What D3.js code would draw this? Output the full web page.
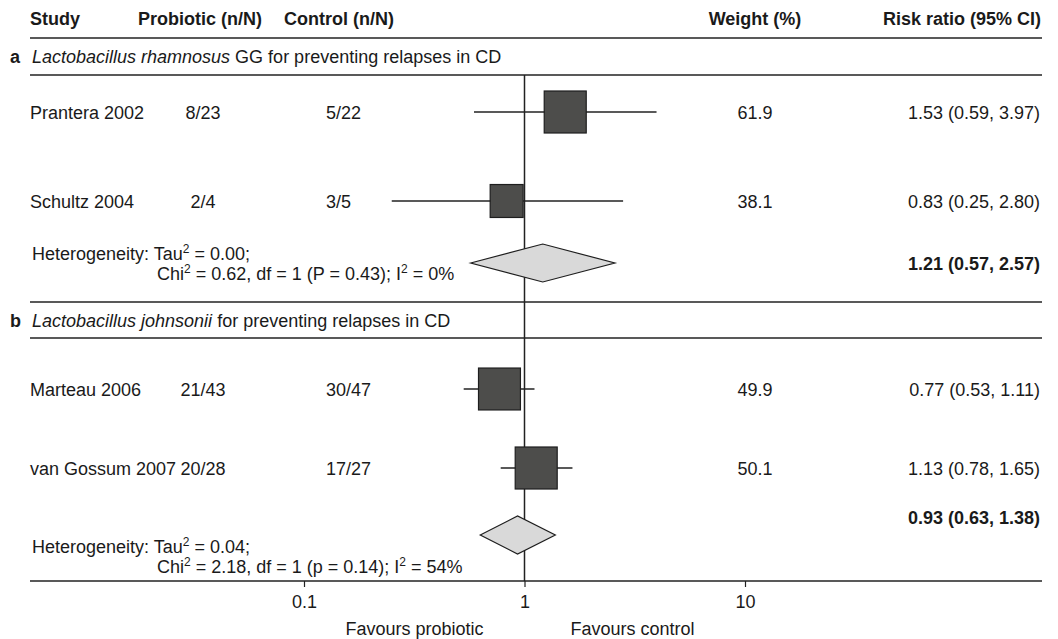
<!DOCTYPE html>
<html>
<head>
<meta charset="utf-8">
<script src="https://cdn.jsdelivr.net/npm/d3@7"></script>
<style>
  body { margin: 0; background: #fff; }
  svg text { font-family: "Liberation Sans", Arial, Helvetica, sans-serif; fill: #1a1a1a; }
</style>
</head>
<body>
<div id="chart"></div>
<script>
// study level data
const studies   = ["Prantera 2002", "Schultz 2004", "Marteau 2006", "van Gossum 2007"];
const subgroup  = ["a", "a", "b", "b"];
const probiotic = ["8/23", "2/4", "21/43", "20/28"];
const control   = ["5/22", "3/5", "30/47", "17/27"];
const weights   = [61.9, 38.1, 49.9, 50.1];
const rr        = [1.53, 0.83, 0.77, 1.13];
const rrLow     = [0.59, 0.25, 0.53, 0.78];
const rrHigh    = [3.97, 2.80, 1.11, 1.65];

// subgroup level data
const groups      = ["a", "b"];
const groupItalic = ["Lactobacillus rhamnosus", "Lactobacillus johnsonii"];
const groupRest   = [" GG for preventing relapses in CD", " for preventing relapses in CD"];
const pooledRR    = [1.21, 0.93];
const pooledLow   = [0.57, 0.63];
const pooledHigh  = [2.57, 1.38];
const tau2        = ["0.00", "0.04"];
const chi2        = ["0.62", "2.18"];
const dfs         = [1, 1];
const pvals       = ["P = 0.43", "p = 0.14"];
const i2          = ["0%", "54%"];

const tickValues = [0.1, 1, 10];

const width = 1058, height = 639;
const fmt2 = d3.format(".2f");

const svg = d3.select("#chart").append("svg")
    .attr("width", width)
    .attr("height", height);

const x = d3.scaleLog().domain([0.1, 10]).range([304, 745]);

// vertical positions of the rows
const studyY  = [112, 201, 389, 468];
const labelY  = [56, 320];
const pooledY = [263, 535];
const pooledTextY = [263, 517];
const hetY    = [253, 546];
const rules   = [38, 75, 302, 338];
const axisY   = 581;
const left = 30, right = 1042;
const fs = 18;

function txt(xp, yc, s, anchor, bold) {
    return svg.append("text")
        .attr("x", xp)
        .attr("y", yc + 6.5)
        .attr("text-anchor", anchor || "start")
        .style("font-size", fs + "px")
        .style("font-weight", bold ? "bold" : "normal")
        .text(s);
}

// header
txt(left, 18, "Study", "start", true);
txt(138, 18, "Probiotic (n/N)", "start", true);
txt(284, 18, "Control (n/N)", "start", true);
txt(755, 18, "Weight (%)", "middle", true);
txt(1041, 18, "Risk ratio (95% CI)", "end", true);

// horizontal rules
svg.selectAll(".rule")
    .data(rules)
    .enter()
    .append("line")
    .attr("x1", left).attr("x2", right)
    .attr("y1", d => d).attr("y2", d => d)
    .attr("stroke", "#222")
    .attr("stroke-width", 1.5);

// line of no effect
svg.append("line")
    .attr("x1", x(1)).attr("x2", x(1))
    .attr("y1", rules[1]).attr("y2", axisY)
    .attr("stroke", "#222")
    .attr("stroke-width", 1.5);

// subgroup titles
groups.forEach((g, i) => {
    txt(10, labelY[i], g, "start", true);
    const t = svg.append("text")
        .attr("x", 32)
        .attr("y", labelY[i] + 6.5)
        .style("font-size", fs + "px");
    t.append("tspan").style("font-style", "italic").text(groupItalic[i]);
    t.append("tspan").text(groupRest[i]);
});

// study rows
const maxW = {};
groups.forEach(g => {
    maxW[g] = d3.max(weights.filter((w, i) => subgroup[i] === g));
});
const boxScale = 42;

studies.forEach((s, i) => {
    const y = studyY[i];
    txt(left, y, s);
    txt(203, y, probiotic[i], "middle");
    txt(326, y, control[i]);
    txt(755, y, weights[i].toFixed(1), "middle");
    txt(1040, y, `${fmt2(rr[i])} (${fmt2(rrLow[i])}, ${fmt2(rrHigh[i])})`, "end");

    svg.append("line")
        .attr("x1", x(rrLow[i])).attr("x2", x(rrHigh[i]))
        .attr("y1", y).attr("y2", y)
        .attr("stroke", "#222")
        .attr("stroke-width", 1.5);

    const side = boxScale * Math.sqrt(weights[i] / maxW[subgroup[i]]);
    svg.append("rect")
        .attr("x", x(rr[i]) - side / 2)
        .attr("y", y - side / 2)
        .attr("width", side)
        .attr("height", side)
        .attr("fill", "#4d4d4b")
        .attr("stroke", "#1e1e1e")
        .attr("stroke-width", 1.2);
});

// pooled diamonds + heterogeneity
groups.forEach((g, i) => {
    const cy = pooledY[i], h = 19;
    const pts = [
        [x(pooledLow[i]), cy],
        [x(pooledRR[i]), cy - h],
        [x(pooledHigh[i]), cy],
        [x(pooledRR[i]), cy + h]
    ];
    svg.append("path")
        .attr("d", d3.line()(pts) + "Z")
        .attr("fill", "#d9d9d9")
        .attr("stroke", "#1e1e1e")
        .attr("stroke-width", 1.2);

    txt(1040, pooledTextY[i], `${fmt2(pooledRR[i])} (${fmt2(pooledLow[i])}, ${fmt2(pooledHigh[i])})`, "end", true);

    const l1 = svg.append("text")
        .attr("x", 32).attr("y", hetY[i] + 6.5)
        .style("font-size", fs + "px");
    l1.append("tspan").text("Heterogeneity: Tau");
    l1.append("tspan").attr("dy", -7).style("font-size", "12px").text("2");
    l1.append("tspan").attr("dy", 7).text(` = ${tau2[i]};`);

    const l2 = svg.append("text")
        .attr("x", 157).attr("y", hetY[i] + 26.5)
        .style("font-size", fs + "px");
    l2.append("tspan").text("Chi");
    l2.append("tspan").attr("dy", -7).style("font-size", "12px").text("2");
    l2.append("tspan").attr("dy", 7).text(` = ${chi2[i]}, df = ${dfs[i]} (${pvals[i]}); I`);
    l2.append("tspan").attr("dy", -7).style("font-size", "12px").text("2");
    l2.append("tspan").attr("dy", 7).text(` = ${i2[i]}`);
});

// bottom axis
svg.append("line")
    .attr("x1", left).attr("x2", right)
    .attr("y1", axisY).attr("y2", axisY)
    .attr("stroke", "#222")
    .attr("stroke-width", 1.5);

const axis = svg.append("g")
    .attr("transform", `translate(0,${axisY})`)
    .call(d3.axisBottom(x)
        .tickValues(tickValues)
        .tickFormat(d => String(d))
        .tickSize(6)
        .tickPadding(8));
axis.select(".domain").remove();
axis.selectAll(".tick line").attr("stroke", "#222").attr("stroke-width", 1.2);
axis.selectAll(".tick text")
    .style("font-size", fs + "px")
    .style("font-family", "'Liberation Sans', Arial, sans-serif")
    .attr("fill", "#1a1a1a");

txt(x(1) - 110, 628, "Favours probiotic", "middle");
txt(x(1) + 108, 628, "Favours control", "middle");
</script>
</body>
</html>
